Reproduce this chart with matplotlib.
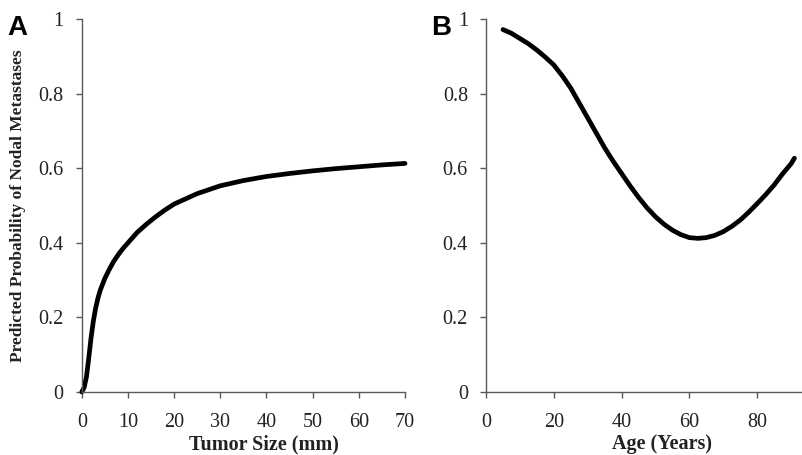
import numpy as np
import matplotlib
matplotlib.use("Agg")
from matplotlib import pyplot as plt

# ======== Data ========
size_mm = [0, 0.5, 1, 1.5, 2, 2.5, 3, 3.5, 4, 5, 6, 7, 8, 9, 10, 12, 14, 16, 18,
           20, 25, 30, 35, 40, 45, 50, 55, 60, 65, 70]
prob_size = [0, 0.012, 0.04, 0.09, 0.145, 0.19, 0.225, 0.252, 0.273, 0.305,
             0.33, 0.352, 0.37, 0.386, 0.40, 0.428, 0.45, 0.47, 0.488,
             0.504, 0.532, 0.553, 0.567, 0.578, 0.586, 0.593, 0.599, 0.604,
             0.609, 0.613]

age_years = [5, 7.5, 10, 12.5, 15, 17.5, 20, 22.5, 25, 27.5, 30, 32.5, 35, 37.5,
             40, 42.5, 45, 47.5, 50, 52.5, 55, 57.5, 60, 62.5, 65, 67.5, 70,
             72.5, 75, 77.5, 80, 82.5, 85, 87.5, 90, 91]
prob_age = [0.972, 0.962, 0.948, 0.934, 0.917, 0.898, 0.877, 0.848, 0.815,
            0.775, 0.735, 0.695, 0.655, 0.619, 0.586, 0.553, 0.522, 0.494,
            0.47, 0.45, 0.434, 0.422, 0.414, 0.412, 0.414, 0.42, 0.43, 0.444,
            0.461, 0.482, 0.505, 0.529, 0.555, 0.585, 0.612, 0.627]

size_ticks = [0, 10, 20, 30, 40, 50, 60, 70]
age_ticks = [0, 20, 40, 60, 80]
prob_ticks = [0, 0.2, 0.4, 0.6, 0.8, 1]
prob_labels = ["0", "0.2", "0.4", "0.6", "0.8", "1"]

SERIF = "Liberation Serif"
SPINE = "#595959"
TEXT = "#222222"

fig = plt.figure(figsize=(8.02, 4.55), dpi=100)
ax_a = fig.add_axes([0.102, 0.1385, 0.403, 0.8195])
ax_b = fig.add_axes([0.606, 0.1385, 0.393, 0.8195])


def style_axis(ax, xticks, xlim):
    ax.set_xlim(*xlim)
    ax.set_ylim(0, 1)
    ax.set_xticks(xticks)
    ax.set_xticklabels([str(t) for t in xticks])
    ax.set_yticks(prob_ticks)
    ax.set_yticklabels(prob_labels)
    for side in ("top", "right"):
        ax.spines[side].set_visible(False)
    for side in ("left", "bottom"):
        ax.spines[side].set_color(SPINE)
        ax.spines[side].set_linewidth(1.0)
    ax.tick_params(direction="out", length=4, width=1, color=SPINE,
                   labelsize=14.5)
    ax.tick_params(axis="x", pad=11)
    ax.tick_params(axis="y", pad=9)
    for lab in ax.get_xticklabels() + ax.get_yticklabels():
        lab.set_fontfamily(SERIF)
        lab.set_color(TEXT)


# ======== Panel A ========
ax_a.plot(size_mm, prob_size, color="black", lw=3.4, solid_capstyle="round",
          solid_joinstyle="round", clip_on=False)
style_axis(ax_a, size_ticks, (0, 70))
ax_a.set_xlabel("Tumor Size (mm)", fontfamily=SERIF, fontweight="bold",
                fontsize=14.5, color=TEXT)
ax_a.xaxis.set_label_coords(0.563, -0.113)
ax_a.set_ylabel("Predicted Probability of Nodal Metastases", fontfamily=SERIF,
                fontweight="bold", fontsize=12.5, labelpad=9, color=TEXT)

# ======== Panel B ========
ax_b.plot(age_years, prob_age, color="black", lw=3.4, solid_capstyle="round",
          solid_joinstyle="round", clip_on=False)
style_axis(ax_b, age_ticks, (0, 93))
ax_b.set_xlabel("Age (Years)", fontfamily=SERIF, fontweight="bold",
                fontsize=14.5, color=TEXT)
ax_b.xaxis.set_label_coords(0.559, -0.113)

# panel letters
fig.text(0.009, 0.923, "A", fontfamily="Liberation Sans", fontweight="bold",
         fontsize=20, color="black")
fig.text(0.537, 0.923, "B", fontfamily="Liberation Sans", fontweight="bold",
         fontsize=20, color="black")

fig.savefig("out.png", dpi=100)
